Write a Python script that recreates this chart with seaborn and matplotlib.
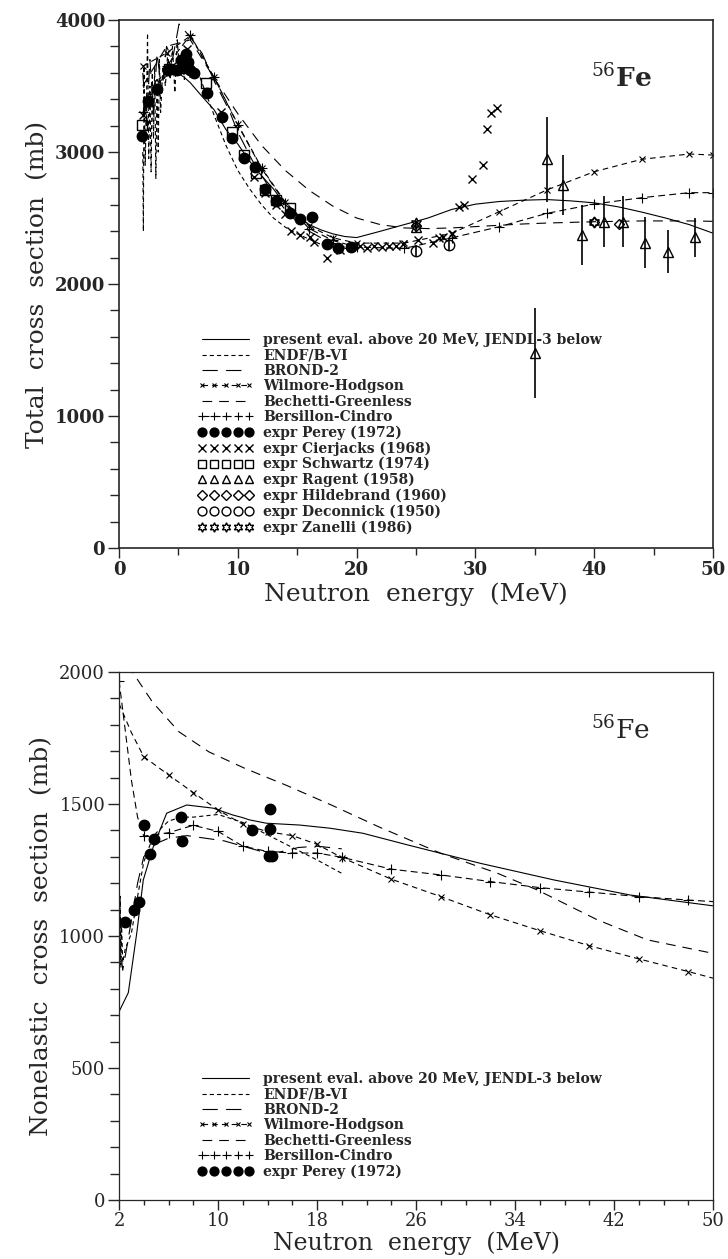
import matplotlib
matplotlib.use('Agg')
import matplotlib.pyplot as plt
from matplotlib.ticker import MultipleLocator, FixedLocator
import seaborn as sns

# ----------
# top panel: total cross section of 56Fe
# ----------
e_jendl = [2.0, 2.5, 3.0, 3.5, 4.0, 4.5, 5.0, 5.5, 6.0, 7.0, 8.0, 9.0, 10.0, 11.0, 12.0, 13.0, 14.0,
           15.0, 16.0, 17.0, 18.0, 19.0, 20.0, 22.0, 24.0, 26.0, 28.0, 30.0, 32.0, 34.0, 36.0, 38.0,
           40.0, 42.0, 44.0, 46.0, 48.0, 50.0]
s_jendl = [3280, 3400, 3480, 3540, 3575, 3595, 3595, 3565, 3525, 3420, 3320, 3170, 3060, 2930, 2820,
           2720, 2600, 2520, 2450, 2410, 2380, 2360, 2352, 2400, 2450, 2500, 2565, 2605, 2625, 2635,
           2640, 2630, 2615, 2585, 2545, 2500, 2450, 2385]

e_endf = [2.0, 2.05, 2.1, 2.2, 2.3, 2.4, 2.5, 2.6, 2.7, 2.8, 2.9, 3.0, 3.1, 3.2, 3.3, 3.4, 3.5, 3.7,
          3.9, 4.1, 4.3, 4.5, 4.7, 4.9, 5.1, 5.3, 5.5, 5.7, 5.9, 6.1, 6.3, 6.6, 7.0, 7.5, 8.0, 9.0,
          10.0, 11.0, 12.0, 13.0, 14.0, 15.0, 16.0, 17.0, 18.0, 19.0, 20.0]
s_endf = [3000, 2400, 3650, 2900, 3300, 3900, 2950, 3500, 2850, 3600, 3100, 3650, 2800, 3550, 3000,
          3700, 3300, 3650, 3500, 3750, 3550, 3800, 3450, 3850, 3600, 3750, 3550, 3800, 3650, 3700,
          3600, 3620, 3520, 3400, 3280, 3050, 2860, 2720, 2600, 2500, 2430, 2380, 2340, 2300, 2280,
          2270, 2265]

e_brond = [2.0, 2.3, 2.6, 2.9, 3.2, 3.6, 4.0, 4.5, 5.05, 6.0, 7.0, 8.0, 9.26, 10.0, 11.2, 12.9, 14.0,
           15.0, 16.0, 17.0, 18.0, 19.0, 20.0]
s_brond = [3600, 3200, 3700, 3300, 3750, 3450, 3800, 3700, 3970, 3870, 3747, 3540, 3318, 3150, 2939,
           2694, 2560, 2470, 2400, 2350, 2310, 2290, 2280]

e_wh = [2, 4, 6, 8, 10, 12, 14, 16, 18, 20, 24, 28, 32, 36, 40, 44, 48, 50]
s_wh = [3650, 3750, 3880, 3565, 3210, 2880, 2620, 2440, 2350, 2310, 2310, 2384, 2548, 2712, 2851,
        2945, 2985, 2977]

e_bg = [2, 4, 6, 8, 10, 12, 14, 16, 18, 20, 22, 24, 26, 28, 30, 32, 34, 36, 40, 44, 48, 50]
s_bg = [3500, 3800, 3850, 3560, 3290, 3050, 2860, 2710, 2590, 2500, 2450, 2425, 2420, 2425, 2435,
        2445, 2455, 2462, 2472, 2478, 2478, 2475]

e_bc = [2, 4, 6, 8, 10, 12, 14, 16, 18, 20, 24, 28, 32, 36, 40, 44, 48, 50]
s_bc = [3300, 3650, 3886, 3565, 3205, 2876, 2611, 2420, 2330, 2280, 2270, 2350, 2434, 2535, 2606,
        2654, 2692, 2692]

e_perey = [1.97, 2.47, 3.23, 4.15, 4.9, 5.2, 5.4, 5.6, 5.8, 6.0, 6.3, 7.43, 8.7, 9.48, 10.52, 11.45,
           12.29, 13.19, 14.37, 15.21, 16.27, 17.48, 18.46, 19.5]
s_perey = [3121, 3386, 3475, 3621, 3620, 3700, 3650, 3740, 3680, 3620, 3600, 3449, 3268, 3103, 2957,
           2884, 2717, 2629, 2540, 2490, 2510, 2300, 2275, 2280]

e_cier = [2.0, 4.5, 5.3, 5.7, 6.2, 8.6, 11.4, 12.3, 13.2, 14.0, 14.5, 15.2, 16.1, 16.4, 17.5, 18.6,
          19.5, 20.3, 20.9, 21.5, 22.1, 22.7, 23.3, 23.9, 25.2, 26.4, 26.9, 27.3, 28.0, 28.6, 29.0,
          29.7, 30.6, 31.0, 31.3, 31.8]
s_cier = [3280, 3650, 3700, 3780, 3600, 3300, 2813, 2690, 2600, 2530, 2404, 2371, 2358, 2320, 2194,
          2260, 2280, 2290, 2275, 2290, 2280, 2290, 2285, 2300, 2333, 2310, 2348, 2360, 2380, 2580,
          2600, 2795, 2900, 3172, 3298, 3331]

e_schw = [1.97, 4.2, 5.5, 7.35, 9.48, 10.5, 11.5, 12.3, 13.2, 14.37]
s_schw = [3205, 3630, 3640, 3525, 3154, 2977, 2838, 2710, 2640, 2573]

e_ragent = [25.0, 35.0, 36.0, 37.4, 39.0, 40.8, 42.4, 44.25, 46.2, 48.5]
s_ragent = [2434, 1475, 2945, 2750, 2371, 2472, 2472, 2313, 2245, 2353]
d_ragent = [40, 340, 320, 230, 228, 195, 195, 195, 165, 150]

e_hild = [25.0, 40.0, 42.1]
s_hild = [2440, 2472, 2455]

e_decon = [25.0, 27.8]
s_decon = [2250, 2293]
d_decon = [45, 45]

e_zan = [25.0, 40.0]
s_zan = [2460, 2472]

# ----------
# bottom panel: nonelastic cross section
# ----------
e2_jendl = [2.0, 2.75, 3.43, 3.96, 4.77, 5.85, 7.47, 9.6, 11.2, 12.0, 12.5, 13.9, 16.6, 19.05, 21.7,
            25.3, 31.2, 37.15, 43.3, 50.0]
s2_jendl = [713, 785, 1010, 1212, 1338, 1465, 1496, 1484, 1458, 1448, 1440, 1427, 1420, 1408, 1389,
            1345, 1275, 1212, 1155, 1114]

e2_endf = [2.0, 2.05, 2.1, 2.15, 2.2, 2.3, 2.5, 3.0, 3.5, 4.0, 4.5, 5.0, 6.0, 7.0, 8.0, 10.0, 12.0,
           14.0, 16.0, 18.0, 20.0]
s2_endf = [1200, 900, 1150, 880, 1050, 900, 950, 1010, 1150, 1280, 1345, 1390, 1435, 1450, 1450, 1460,
           1430, 1383, 1335, 1288, 1237]

e2_brond = [2.0, 2.3, 2.6, 3.0, 3.5, 4.0, 5.0, 6.0, 7.5, 9.0, 10.5, 12.0, 13.5, 15.0, 16.5, 18.0, 20.0]
s2_brond = [1000, 870, 950, 1060, 1200, 1300, 1350, 1370, 1380, 1370, 1360, 1340, 1320, 1318, 1335,
            1340, 1330]

e2_wh = [2.0, 3.0, 4.0, 6.0, 8.0, 10.0, 12.0, 14.0, 16.0, 18.0, 20.0, 24.0, 28.0, 32.0, 36.0, 40.0,
         44.0, 48.0, 50.0]
s2_wh = [1880, 1770, 1679, 1610, 1543, 1477, 1423, 1395, 1380, 1347, 1297, 1215, 1149, 1080, 1020, 963,
         913, 865, 840]

e2_bg = [2.5, 3.08, 4.7, 6.85, 9.27, 12.2, 15.5, 19.2, 23.0, 28.0, 32.6, 35.8, 40.65, 44.7, 50.0]
s2_bg = [2090, 2000, 1886, 1773, 1697, 1634, 1571, 1495, 1413, 1313, 1237, 1174, 1061, 985, 934]

e2_bc = [2.0, 2.5, 3.0, 3.5, 4.0, 6.0, 8.0, 10.0, 12.0, 14.0, 16.0, 18.0, 20.0, 24.0, 28.0, 32.0, 36.0,
         40.0, 44.0, 48.0, 50.0]
s2_bc = [1967, 1780, 1590, 1450, 1378, 1391, 1419, 1396, 1340, 1320, 1314, 1314, 1298, 1253, 1231, 1206,
         1183, 1166, 1149, 1136, 1130]

e2_perey = [2.48, 3.21, 3.62, 4.02, 4.5, 4.83, 6.98, 7.12, 12.72, 14.18, 14.18, 14.12, 14.4]
s2_perey = [1051, 1100, 1129, 1419, 1311, 1369, 1451, 1359, 1400, 1482, 1404, 1303, 1303]

x2_ticks = [2, 10, 18, 26, 34, 42, 50]

labels = ['present eval. above 20 MeV, JENDL-3 below', 'ENDF/B-VI', 'BROND-2', 'Wilmore-Hodgson',
          'Bechetti-Greenless', 'Bersillon-Cindro', 'expr Perey (1972)', 'expr Cierjacks (1968)',
          'expr Schwartz (1974)', 'expr Ragent (1958)', 'expr Hildebrand (1960)',
          'expr Deconnick (1950)', 'expr Zanelli (1986)']

sns.set_style('ticks')
plt.rcParams['font.family'] = ['DejaVu Serif']
plt.rcParams['mathtext.fontset'] = 'dejavuserif'
plt.rcParams['lines.scale_dashes'] = False

LS_ENDF = (0, (3, 2.2))
LS_BROND = (0, (11, 6))
LS_BG = (0, (7, 5))
LS_WH = (0, (4, 3))
LS_BC = (0, (5, 3))


def curve(ax, e, s, label, ls, marker=None, ms=None, mevery=None):
    sns.lineplot(x=e, y=s, ax=ax, color='k', lw=0.8, linestyle=ls, marker=marker,
                 markersize=ms, markeredgecolor='k', markeredgewidth=0.8, markevery=mevery,
                 estimator=None, sort=False, label=label)


def points(ax, e, s, label, marker, ms, filled=False):
    sns.lineplot(x=e, y=s, ax=ax, color='k', linestyle='', marker=marker, markersize=ms,
                 markeredgecolor='k', markeredgewidth=1.0,
                 markerfacecolor='k' if filled else 'none',
                 estimator=None, sort=False, label=label)


def style_axes(ax, bold):
    w = 'bold' if bold else 'normal'
    for sp in ax.spines.values():
        sp.set_visible(True)
        sp.set_linewidth(1.2 if bold else 0.9)
    ax.tick_params(which='both', direction='out', top=False, right=False,
                   width=1.0, labelsize=13, pad=2)
    ax.tick_params(axis='y', which='major', length=8)
    ax.tick_params(axis='y', which='minor', length=6.5)
    for t in ax.get_xticklabels() + ax.get_yticklabels():
        t.set_fontweight(w)


fig = plt.figure(figsize=(7.28, 12.59), dpi=100)
ax1 = fig.add_axes([0.1635, 0.5647, 0.816, 0.4194])
ax2 = fig.add_axes([0.1635, 0.0469, 0.816, 0.4194])

leg_font = {'family': 'DejaVu Serif', 'weight': 'bold', 'size': 10}
leg_kw = dict(loc='upper left', frameon=False, prop=leg_font, numpoints=5, handlelength=4.0,
              handletextpad=0.7, labelspacing=0.1, borderpad=0, borderaxespad=0,
              markerscale=0.85)

# ----------
# top panel
# ----------
curve(ax1, e_jendl, s_jendl, labels[0], '-')
curve(ax1, e_endf, s_endf, labels[1], LS_ENDF)
curve(ax1, e_brond, s_brond, labels[2], LS_BROND)
curve(ax1, e_wh, s_wh, labels[3], LS_WH, marker='x', ms=4)
curve(ax1, e_bg, s_bg, labels[4], LS_BG)
curve(ax1, e_bc, s_bc, labels[5], LS_BC, marker='+', ms=7)
points(ax1, e_perey, s_perey, labels[6], 'o', 7.5, filled=True)
points(ax1, e_cier, s_cier, labels[7], 'x', 6)
points(ax1, e_schw, s_schw, labels[8], 's', 6.5)
ax1.vlines(e_ragent, [s - d for s, d in zip(s_ragent, d_ragent)],
           [s + d for s, d in zip(s_ragent, d_ragent)], color='k', lw=1.2)
points(ax1, e_ragent, s_ragent, labels[9], '^', 7.5)
points(ax1, e_hild, s_hild, labels[10], 'D', 5.5)
ax1.vlines(e_decon, [s - d for s, d in zip(s_decon, d_decon)],
           [s + d for s, d in zip(s_decon, d_decon)], color='k', lw=1.2)
points(ax1, e_decon, s_decon, labels[11], 'o', 7.5)
points(ax1, e_zan, s_zan, labels[12], (6, 1, 0), 8)

ax1.set_xlim(0, 50)
ax1.set_ylim(0, 4000)
ax1.xaxis.set_major_locator(MultipleLocator(10))
ax1.xaxis.set_minor_locator(MultipleLocator(5))
ax1.yaxis.set_major_locator(MultipleLocator(1000))
ax1.yaxis.set_minor_locator(MultipleLocator(200))
style_axes(ax1, True)
ax1.tick_params(axis='x', which='major', length=7)
ax1.tick_params(axis='x', which='minor', length=5)
ax1.set_xlabel('Neutron  energy  (MeV)', fontsize=18, labelpad=3)
ax1.set_ylabel('Total  cross  section  (mb)', fontsize=18, labelpad=4)
ax1.text(0.795, 0.89, r'$^{56}$Fe', transform=ax1.transAxes, fontsize=19,
         fontweight='bold', ha='left', va='center')
ax1.legend(bbox_to_anchor=(0.133, 0.407), **leg_kw)

# ----------
# bottom panel
# ----------
curve(ax2, e2_jendl, s2_jendl, labels[0], '-')
curve(ax2, e2_endf, s2_endf, labels[1], LS_ENDF)
curve(ax2, e2_brond, s2_brond, labels[2], LS_BROND)
curve(ax2, e2_wh, s2_wh, labels[3], LS_WH, marker='x', ms=4,
      mevery=[2, 3, 4, 5, 6, 7, 8, 9, 10, 11, 12, 13, 14, 15, 16, 17])
curve(ax2, e2_bg, s2_bg, labels[4], LS_BG)
curve(ax2, e2_bc, s2_bc, labels[5], LS_BC, marker='+', ms=7,
      mevery=[0, 4, 5, 6, 7, 8, 9, 10, 11, 12, 13, 14, 15, 16, 17, 18, 19])
points(ax2, e2_perey, s2_perey, labels[6], 'o', 7.5, filled=True)

ax2.set_xlim(2, 50)
ax2.set_ylim(0, 2000)
ax2.xaxis.set_major_locator(FixedLocator(x2_ticks))
ax2.xaxis.set_minor_locator(MultipleLocator(2))
ax2.yaxis.set_major_locator(MultipleLocator(500))
ax2.yaxis.set_minor_locator(MultipleLocator(100))
style_axes(ax2, False)
ax2.tick_params(axis='x', which='major', length=7)
ax2.tick_params(axis='x', which='minor', length=3.5)
ax2.set_xlabel('Neutron  energy  (MeV)', fontsize=17, labelpad=1)
ax2.set_ylabel('Nonelastic  cross  section  (mb)', fontsize=18, labelpad=4)
ax2.text(0.795, 0.89, r'$^{56}$Fe', transform=ax2.transAxes, fontsize=19,
         ha='left', va='center')
ax2.legend(bbox_to_anchor=(0.133, 0.242), **leg_kw)

fig.savefig('out.png', dpi=100, facecolor='white')
